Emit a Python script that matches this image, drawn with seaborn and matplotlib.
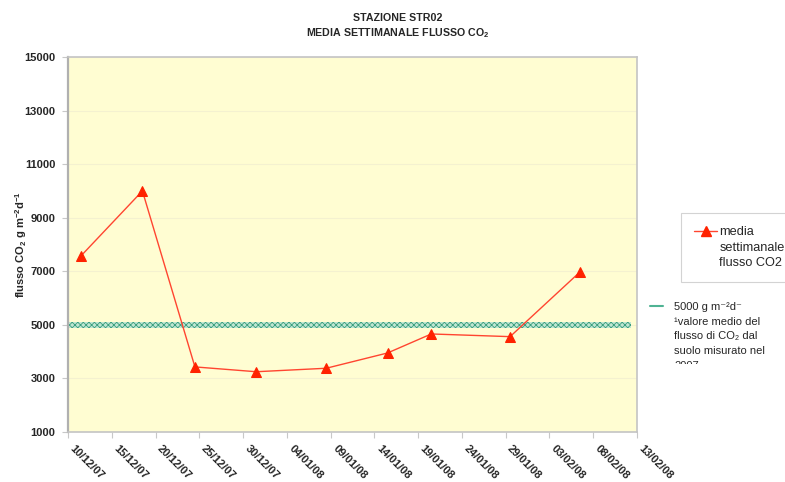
import numpy as np
import pandas as pd
import matplotlib
matplotlib.use('Agg')
import matplotlib.pyplot as plt
import matplotlib.dates as mdates
from matplotlib.lines import Line2D
from matplotlib.transforms import Bbox, TransformedBbox
import seaborn as sns

# data
dates = ['2007-12-11', '2007-12-18', '2007-12-24', '2007-12-31', '2008-01-08',
         '2008-01-15', '2008-01-20', '2008-01-29', '2008-02-06']
flusso = [7580, 10000, 3430, 3250, 3380, 3950, 4660, 4560, 6980]
valore_medio_2007 = 5000

x_start = '2007-12-10'
x_end = '2008-02-13'

sns.set_theme(style='white')
plt.rcParams['font.family'] = ['Liberation Sans', 'DejaVu Sans']
plt.rcParams['mathtext.fontset'] = 'custom'
plt.rcParams['mathtext.rm'] = 'Liberation Sans'
plt.rcParams['mathtext.bf'] = 'Liberation Sans:bold'
plt.rcParams['hatch.linewidth'] = 0.6

df = pd.DataFrame({'data': pd.to_datetime(dates) + pd.Timedelta(hours=12),
                   'flusso': flusso})

fig = plt.figure(figsize=(7.85, 4.82), dpi=100)
ax = fig.add_axes([68 / 785, 1 - 432 / 482, (637 - 68) / 785, (432 - 57) / 482])
ax.set_facecolor('#FFFDD2')

# reference value band (hatched, like the Excel pattern line)
ax.axhspan(valore_medio_2007 - 120, valore_medio_2007 + 120, xmax=0.99,
           facecolor='#bfe6d2', edgecolor='#3c9f7e', hatch='xxxxxx', lw=0,
           zorder=2)

sns.lineplot(data=df, x='data', y='flusso', ax=ax, color='#FF4530', lw=1,
             marker='^', markersize=7, markerfacecolor='#FF2200',
             markeredgecolor='#FF2200', zorder=3)

ax.set_xlim(pd.Timestamp(x_start), pd.Timestamp(x_end))
ax.set_ylim(1000, 15000)
ax.set_yticks(np.arange(1000, 15001, 2000))
ax.set_xticks(pd.date_range(x_start, x_end, freq='5D'))
ax.xaxis.set_major_formatter(mdates.DateFormatter('%d/%m/%y'))
ax.yaxis.grid(True, color='#f4f1d0', lw=0.8)
ax.set_axisbelow(True)

for s in ax.spines.values():
    s.set_color('#c4c4c4')
    s.set_linewidth(1.2)
ax.spines['left'].set_color('#b0b0b0')
ax.spines['left'].set_linewidth(1.6)

ax.tick_params(axis='both', which='major', direction='out', length=4, width=0.8,
               color='#c8c8c8', labelsize=8, pad=2)
ax.tick_params(axis='y', left=True, pad=5)
ax.tick_params(axis='x', bottom=True, pad=9)
for lab in ax.get_yticklabels():
    lab.set_fontweight('bold')
for lab in ax.get_xticklabels():
    lab.set_fontweight('bold')
    lab.set_rotation(-45)
    lab.set_ha('left')
    lab.set_va('bottom')
    lab.set_rotation_mode('anchor')

ax.set_xlabel('')
ax.set_ylabel(r'flusso CO$_\mathbf{2}$ g m$^{\mathbf{-2}}$d$^{\mathbf{-1}}$',
              fontsize=8, fontweight='bold')
ax.yaxis.set_label_coords(-0.068, 0.5)

fig.text(398 / 785, 1 - 18 / 482, 'STAZIONE STR02', ha='center', va='center',
         fontsize=7.7, fontweight='bold')
fig.text(398 / 785, 1 - 33 / 482, r'MEDIA SETTIMANALE FLUSSO CO$_\mathbf{2}$',
         ha='center', va='center', fontsize=7.7, fontweight='bold')

# legend 1: series (one entry per text line so the marker sits on the first line)
h_red = Line2D([], [], color='#FF4530', lw=1, marker='^', markersize=7,
               markerfacecolor='#FF2200', markeredgecolor='#FF2200')
h_none = Line2D([], [], lw=0, alpha=0)
leg1 = fig.legend([h_red, h_none, h_none], ['media', 'settimanale', 'flusso CO2'],
                  loc='upper left', bbox_to_anchor=(681 / 785, 1 - 213 / 482),
                  frameon=True, fancybox=False, edgecolor='#c8c8c8',
                  fontsize=9.2, handlelength=1.75, handletextpad=0.2,
                  borderpad=1.05, labelspacing=0.25, borderaxespad=0)
leg1.get_frame().set_linewidth(0.8)

# legend 2: reference value, text clipped at the bottom like the original
h_green = Line2D([], [], color='#4fb393', lw=1.5)
lines2 = ['5000 g m⁻²d⁻', '¹valore medio del',
          'flusso di CO₂ dal', 'suolo misurato nel', '2007']
leg2 = fig.legend([h_green] + [h_none] * 4, lines2,
                  loc='upper left', bbox_to_anchor=(650 / 785, 1 - 302 / 482),
                  frameon=False, fontsize=8, handlelength=1.2,
                  handletextpad=1.0, borderpad=0, labelspacing=0.42,
                  borderaxespad=0)
clip = TransformedBbox(Bbox([[0.8, 1 - 364 / 482], [1.0, 1 - 280 / 482]]),
                       fig.transFigure)
for t in leg2.get_texts():
    t.set_clip_box(clip)
    t.set_clip_on(True)

fig.savefig('out.png', dpi=100)
